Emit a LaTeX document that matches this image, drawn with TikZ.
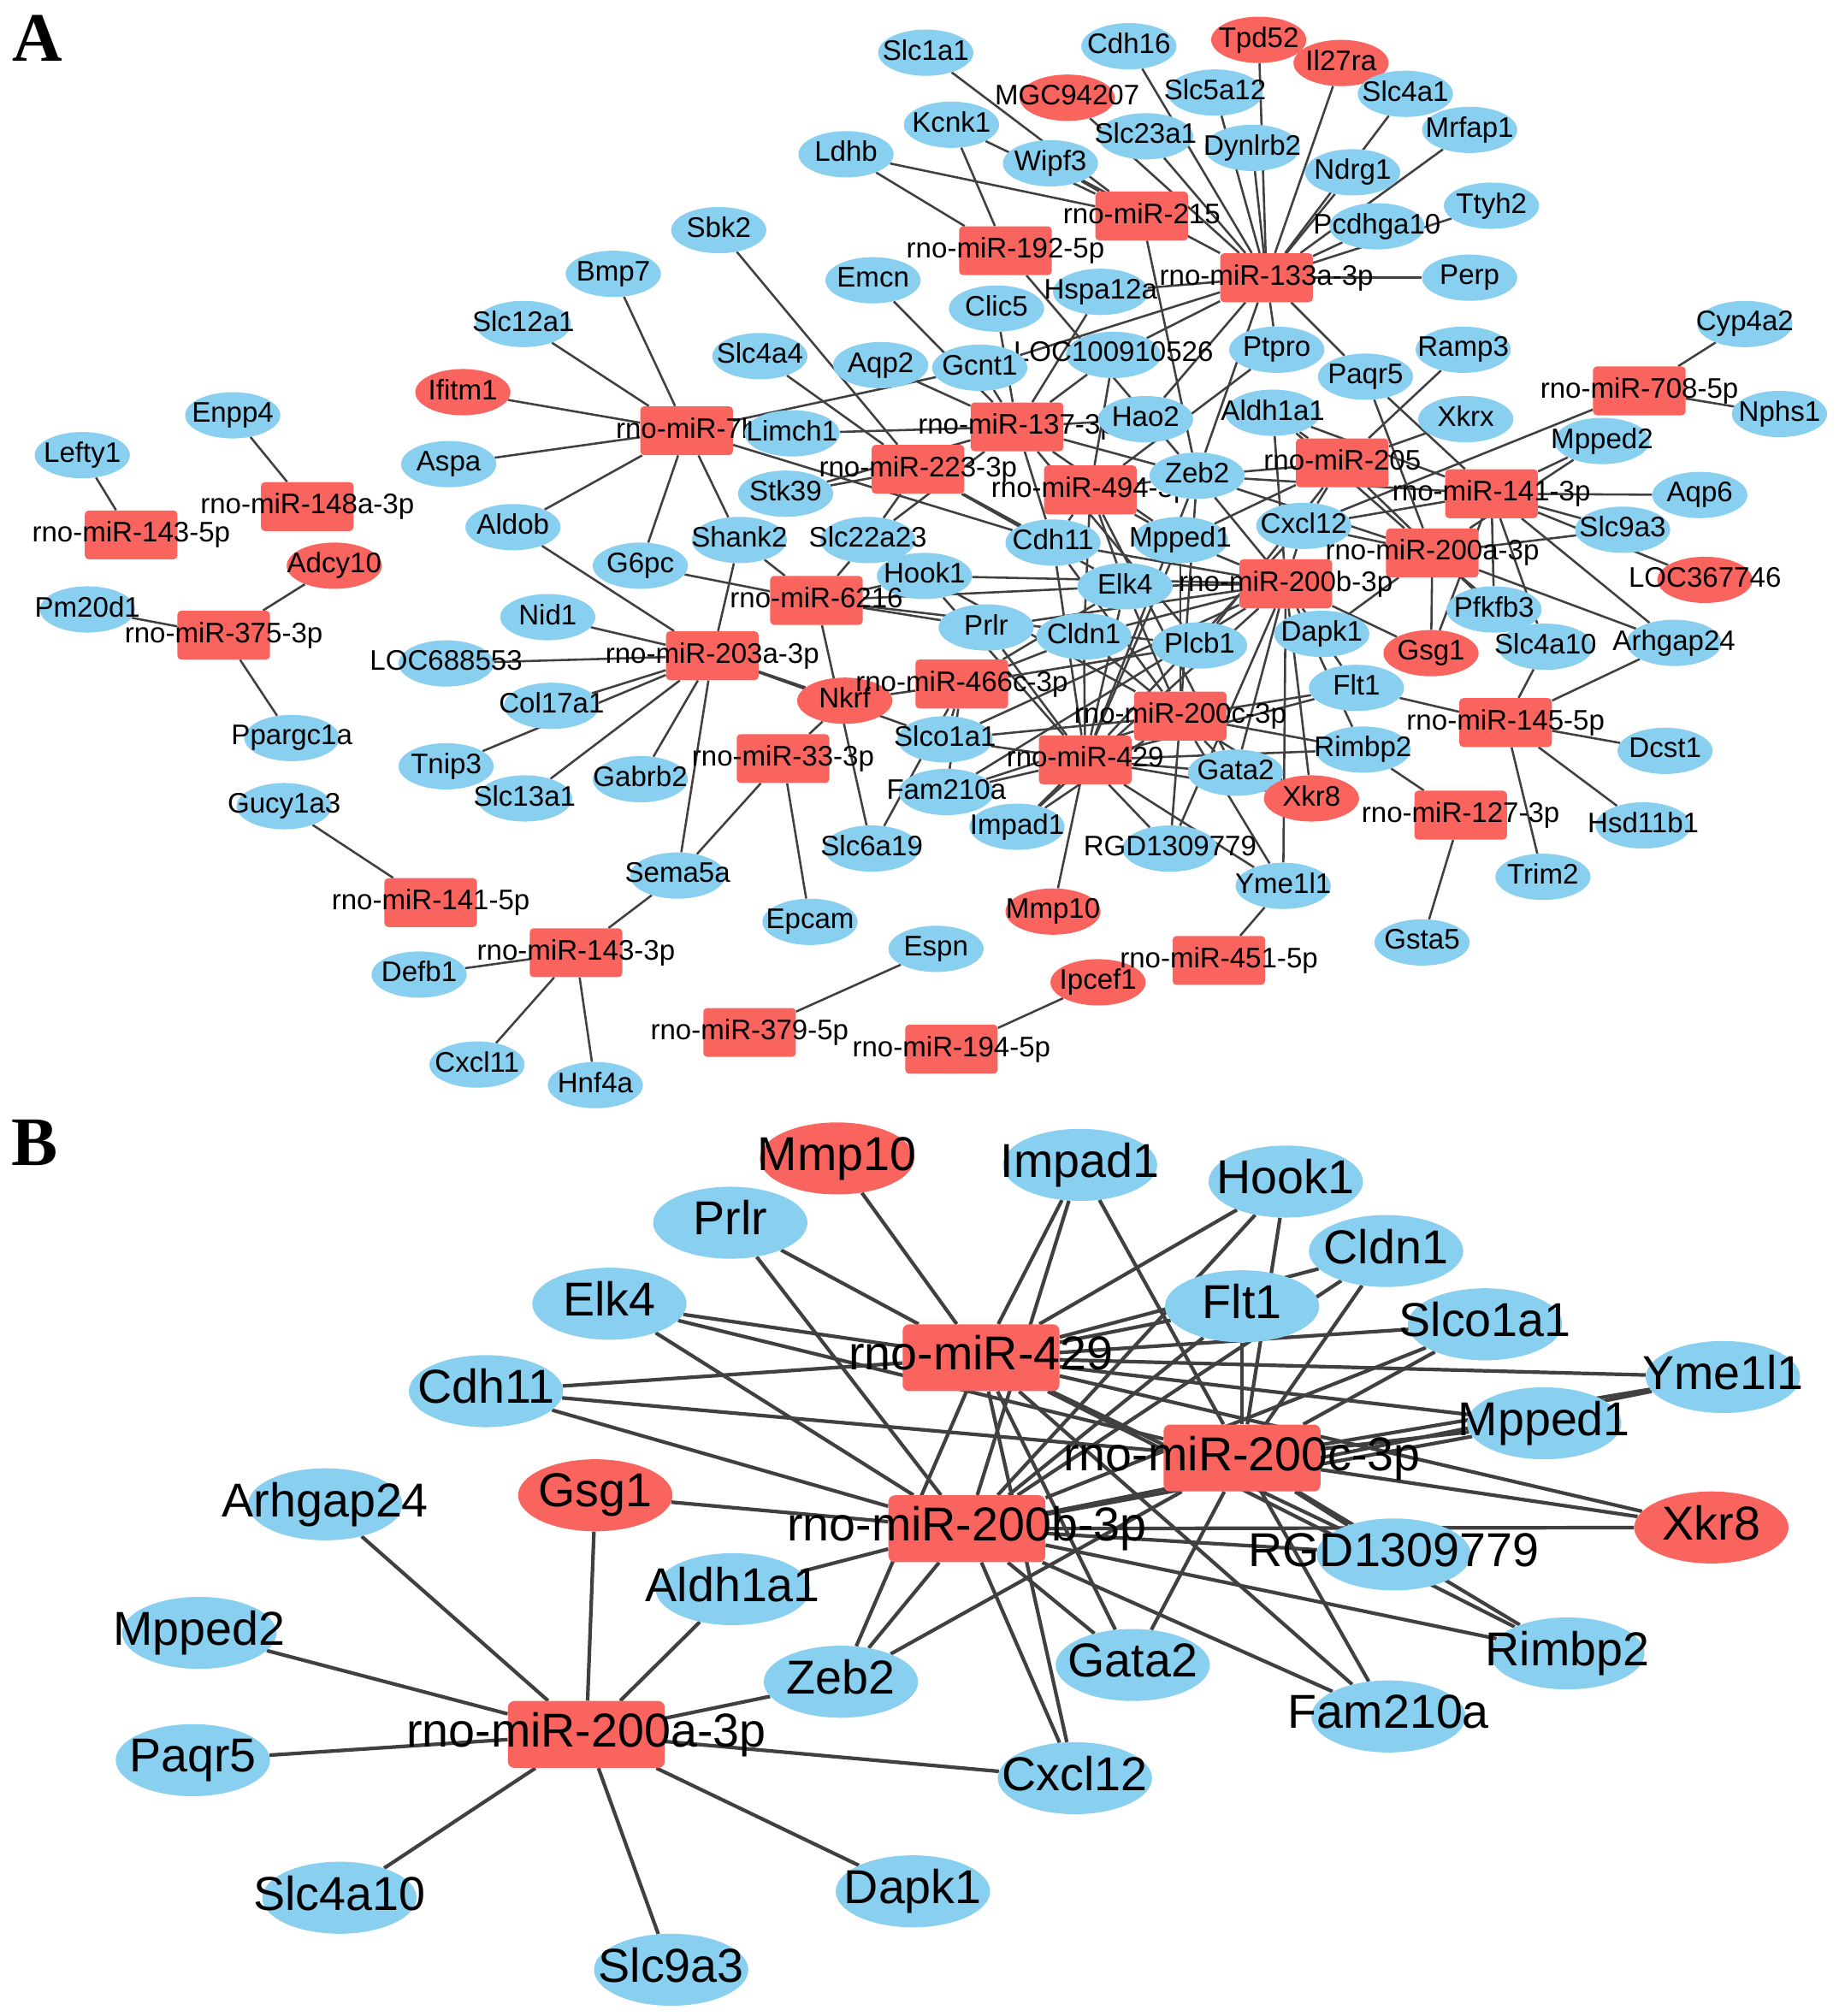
\documentclass[tikz,border=0pt]{standalone}
\usepackage{fontspec}
\setmainfont{Liberation Serif}
\setsansfont{Liberation Sans}
\usetikzlibrary{shapes.geometric,backgrounds}
\definecolor{gblue}{RGB}{137,207,240}
\definecolor{gred}{RGB}{250,100,95}
\definecolor{eg}{RGB}{64,64,64}
\newcommand{\myND}[4]{\node[#1] (#2) at (#3) {\makebox[0pt]{\vphantom{Ag}#4}};}
\begin{document}
\begin{tikzpicture}[x=1pt,y=-1pt,
  ga/.style={ellipse,fill=gblue,minimum width=74pt,minimum height=36pt,inner sep=0pt,font=\sffamily\fontsize{22}{22}\selectfont},
  gar/.style={ga,fill=gred},
  ma/.style={rectangle,rounded corners=3pt,fill=gred,minimum width=72pt,minimum height=38pt,inner sep=0pt,font=\sffamily\fontsize{22}{22}\selectfont},
  gb/.style={ellipse,fill=gblue,minimum width=120pt,minimum height=56pt,inner sep=0pt,font=\sffamily\fontsize{37}{37}\selectfont},
  gbr/.style={gb,fill=gred},
  mb/.style={rectangle,rounded corners=5pt,fill=gred,minimum width=122pt,minimum height=52pt,inner sep=0pt,font=\sffamily\fontsize{37}{37}\selectfont},
  ea/.style={draw=eg,line width=1.7pt},
  eb/.style={draw=eg,line width=2.8pt},
  panel/.style={font=\rmfamily\bfseries\fontsize{54}{54}\selectfont,inner sep=0pt}
]
\useasboundingbox (0,0) rectangle (1430,1568);
% ---------------- Panel A : genes ----------------
\myND{ga}{Lefty1}{64,354}{Lefty1}
\myND{ga}{Enpp4}{181,323}{Enpp4}
\myND{gar}{Adcy10}{260,440}{Adcy10}
\myND{ga}{Pm20d1}{68,474}{Pm20d1}
\myND{ga}{Ppargc1a}{227,574}{Ppargc1a}
\myND{ga}{Gucy1a3}{221,627}{Gucy1a3}
\myND{ga}{Defb1}{326,758}{Defb1}
\myND{ga}{Cxcl11}{371,828}{Cxcl11}
\myND{ga}{Hnf4a}{463,844}{Hnf4a}
\myND{gar}{Ifitm1}{360,305}{Ifitm1}
\myND{ga}{Aspa}{349,361}{Aspa}
\myND{ga}{Aldob}{399,410}{Aldob}
\myND{ga}{Slc12a1}{407,252}{Slc12a1}
\myND{ga}{Bmp7}{477,213}{Bmp7}
\myND{ga}{Sbk2}{559,179}{Sbk2}
\myND{ga}{Slc4a4}{591,277}{Slc4a4}
\myND{ga}{Aqp2}{685,284}{Aqp2}
\myND{ga}{Emcn}{679,218}{Emcn}
\myND{ga}{Ldhb}{658,120}{Ldhb}
\myND{ga}{Kcnk1}{740,97}{Kcnk1}
\myND{ga}{Slc1a1}{720,41}{Slc1a1}
\myND{ga}{Wipf3}{817,127}{Wipf3}
\myND{gar}{MGC94207}{830,76}{MGC94207}
\myND{ga}{Cdh16}{878,36}{Cdh16}
\myND{gar}{Tpd52}{979,31}{Tpd52}
\myND{gar}{Il27ra}{1043,49}{Il27ra}
\myND{ga}{Slc5a12}{945,72}{Slc5a12}
\myND{ga}{Slc23a1}{891,106}{Slc23a1}
\myND{ga}{Dynlrb2}{974,115}{Dynlrb2}
\myND{ga}{Slc4a1}{1093,73}{Slc4a1}
\myND{ga}{Mrfap1}{1143,101}{Mrfap1}
\myND{ga}{Ndrg1}{1052,134}{Ndrg1}
\myND{ga}{Ttyh2}{1160,160}{Ttyh2}
\myND{ga}{Pcdhga10}{1071,176}{Pcdhga10}
\myND{ga}{Perp}{1143,216}{Perp}
\myND{ga}{Hspa12a}{856,227}{Hspa12a}
\myND{ga}{Clic5}{775,240}{Clic5}
\myND{ga}{LOC100910526}{866,276}{LOC100910526}
\myND{ga}{Gcnt1}{762,286}{Gcnt1}
\myND{ga}{Ptpro}{993,272}{Ptpro}
\myND{ga}{Ramp3}{1138,272}{Ramp3}
\myND{ga}{Paqr5}{1062,293}{Paqr5}
\myND{ga}{Cyp4a2}{1357,252}{Cyp4a2}
\myND{ga}{Nphs1}{1384,322}{Nphs1}
\myND{ga}{Xkrx}{1140,326}{Xkrx}
\myND{ga}{Mpped2}{1246,343}{Mpped2}
\myND{ga}{Aqp6}{1322,385}{Aqp6}
\myND{ga}{Slc9a3}{1262,412}{Slc9a3}
\myND{gar}{LOC367746}{1326,451}{LOC367746}
\myND{ga}{Pfkfb3}{1162,474}{Pfkfb3}
\myND{ga}{Slc4a10}{1202,503}{Slc4a10}
\myND{ga}{Arhgap24}{1302,500}{Arhgap24}
\myND{gar}{Gsg1}{1113,508}{Gsg1}
\myND{ga}{Dcst1}{1295,584}{Dcst1}
\myND{ga}{Hsd11b1}{1278,642}{Hsd11b1}
\myND{ga}{Trim2}{1200,682}{Trim2}
\myND{ga}{Gsta5}{1106,733}{Gsta5}
\myND{ga}{Aldh1a1}{990,321}{Aldh1a1}
\myND{ga}{Stk39}{611,384}{Stk39}
\myND{ga}{Cxcl12}{1014,409}{Cxcl12}
\myND{ga}{Mpped1}{918,420}{Mpped1}
\myND{ga}{Cdh11}{819,422}{Cdh11}
\myND{ga}{Shank2}{575,420}{Shank2}
\myND{ga}{Slc22a23}{675,420}{Slc22a23}
\myND{ga}{G6pc}{498,440}{G6pc}
\myND{ga}{Hook1}{719,448}{Hook1}
\myND{ga}{Elk4}{875,456}{Elk4}
\myND{ga}{Dapk1}{1028,493}{Dapk1}
\myND{ga}{Prlr}{767,488}{Prlr}
\myND{ga}{Cldn1}{843,495}{Cldn1}
\myND{ga}{Plcb1}{933,502}{Plcb1}
\myND{ga}{Nid1}{426,480}{Nid1}
\myND{ga}{LOC688553}{347,516}{LOC688553}
\myND{ga}{Col17a1}{429,549}{Col17a1}
\myND{ga}{Tnip3}{347,596}{Tnip3}
\myND{ga}{Slc13a1}{408,621}{Slc13a1}
\myND{ga}{Gabrb2}{498,606}{Gabrb2}
\myND{gar}{Nkrf}{657,545}{Nkrf}
\myND{ga}{Slco1a1}{735,575}{Slco1a1}
\myND{ga}{Flt1}{1055,535}{Flt1}
\myND{ga}{Rimbp2}{1060,583}{Rimbp2}
\myND{ga}{Gata2}{961,601}{Gata2}
\myND{ga}{Fam210a}{736,616}{Fam210a}
\myND{ga}{Impad1}{791,643}{Impad1}
\myND{gar}{Xkr8}{1020,621}{Xkr8}
\myND{ga}{RGD}{910,660}{RGD1309779}
\myND{ga}{Slc6a19}{678,660}{Slc6a19}
\myND{ga}{Sema5a}{527,681}{Sema5a}
\myND{ga}{Epcam}{630,717}{Epcam}
\myND{gar}{Mmp10}{819,709}{Mmp10}
\myND{ga}{Yme1l1}{998,689}{Yme1l1}
\myND{ga}{Espn}{728,738}{Espn}
\myND{gar}{Ipcef1}{854,764}{Ipcef1}
% ---------------- Panel A : miRNAs ----------------
\myND{ma}{m143f}{102,416}{rno-miR-143-5p}
\myND{ma}{m148}{239,394}{rno-miR-148a-3p}
\myND{ma}{m375}{174,494}{rno-miR-375-3p}
\myND{ma}{m141f}{335,702}{rno-miR-141-5p}
\myND{ma}{m143t}{448,741}{rno-miR-143-3p}
\myND{ma}{m379}{583,803}{rno-miR-379-5p}
\myND{ma}{m194}{740,816}{rno-miR-194-5p}
\myND{ma}{m451}{948,747}{rno-miR-451-5p}
\myND{ma}{m708}{1275,304}{rno-miR-708-5p}
\myND{ma}{m127}{1136,634}{rno-miR-127-3p}
\myND{ma}{m145}{1171,562}{rno-miR-145-5p}
\myND{ma}{m7}{534,335}{rno-miR-7b}
\myND{ma}{m223}{714,365}{rno-miR-223-3p}
\myND{ma}{m137}{791,332}{rno-miR-137-3p}
\myND{ma}{m192}{782,195}{rno-miR-192-5p}
\myND{ma}{m215}{888,168}{rno-miR-215}
\myND{ma}{m133}{985,216}{rno-miR-133a-3p}
\myND{ma}{m494}{848,381}{rno-miR-494-3p}
\myND{ma}{m205}{1044,360}{rno-miR-205}
\myND{ma}{m141t}{1160,384}{rno-miR-141-3p}
\myND{ma}{m200a}{1114,430}{rno-miR-200a-3p}
\myND{ma}{m200b}{1000,454}{rno-miR-200b-3p}
\myND{ma}{m6216}{635,467}{rno-miR-6216}
\myND{ma}{m203}{554,510}{rno-miR-203a-3p}
\myND{ma}{m466}{748,532}{rno-miR-466c-3p}
\myND{ma}{m200c}{918,557}{rno-miR-200c-3p}
\myND{ma}{m429}{844,591}{rno-miR-429}
\myND{ma}{m33}{609,590}{rno-miR-33-3p}
% genes drawn over miRNA labels
\myND{ga}{Limch1}{616,337}{Limch1}
\myND{ga}{Hao2}{891,326}{Hao2}
\myND{ga}{Zeb2}{931,370}{Zeb2}
% ---------------- Panel B ----------------
\myND{gbr}{BMmp10}{651,901}{Mmp10}
\myND{gb}{BImpad1}{840,906}{Impad1}
\myND{gb}{BHook1}{1000,919}{Hook1}
\myND{gb}{BPrlr}{568,951}{Prlr}
\myND{gb}{BCldn1}{1078,973}{Cldn1}
\myND{gb}{BElk4}{474,1014}{Elk4}
\myND{gb}{BFlt1}{966,1016}{Flt1}
\myND{gb}{BSlco1a1}{1155,1030}{Slco1a1}
\myND{gb}{BYme1l1}{1340,1071}{Yme1l1}
\myND{gb}{BCdh11}{378,1082}{Cdh11}
\myND{gb}{BMpped1}{1201,1107}{Mpped1}
\myND{gbr}{BGsg1}{463,1163}{Gsg1}
\myND{gb}{BArhgap24}{253,1170}{Arhgap24}
\myND{gbr}{BXkr8}{1331,1188}{Xkr8}
\myND{gb}{BRGD}{1084,1209}{RGD1309779}
\myND{gb}{BAldh1a1}{570,1236}{Aldh1a1}
\myND{gb}{BMpped2}{155,1270}{Mpped2}
\myND{gb}{BZeb2}{654,1308}{Zeb2}
\myND{gb}{BGata2}{881,1295}{Gata2}
\myND{gb}{BRimbp2}{1219,1286}{Rimbp2}
\myND{gb}{BFam210a}{1080,1335}{Fam210a}
\myND{gb}{BPaqr5}{150,1369}{Paqr5}
\myND{gb}{BCxcl12}{836,1383}{Cxcl12}
\myND{gb}{BSlc4a10}{264,1476}{Slc4a10}
\myND{gb}{BDapk1}{710,1471}{Dapk1}
\myND{gb}{BSlc9a3}{522,1532}{Slc9a3}
\myND{mb}{B429}{763,1056}{rno-miR-429}
\myND{mb}{B200c}{966,1134}{rno-miR-200c-3p}
\myND{mb}{B200b}{752,1189}{rno-miR-200b-3p}
\myND{mb}{B200a}{456,1349}{rno-miR-200a-3p}
% panel letters
\node[panel] (LA) at (29,30) {A};
\node[panel] (LB) at (27,889) {B};
% ---------------- edges ----------------
\begin{pgfonlayer}{background}
\fill[white] (0,0) rectangle (1430,1568);
\foreach \m/\g in {m143f/Lefty1, m148/Enpp4, m375/Adcy10, m375/Pm20d1, m375/Ppargc1a, m141f/Gucy1a3,
  m143t/Defb1, m143t/Cxcl11, m143t/Hnf4a, m143t/Sema5a, m379/Espn, m194/Ipcef1, m451/Yme1l1,
  m708/Cyp4a2, m708/Nphs1, m708/Cxcl12, m127/Rimbp2, m127/Gsta5,
  m145/Slc4a10, m145/Arhgap24, m145/Dcst1, m145/Hsd11b1, m145/Trim2, m145/Flt1,
  m7/Slc12a1, m7/Bmp7, m7/Ifitm1, m7/Aspa, m7/Aldob, m7/G6pc, m7/Shank2, m7/Gcnt1, m7/Cdh11,
  m223/Sbk2, m223/Slc4a4, m223/Stk39, m223/Slc22a23, m223/Cdh11, m223/Elk4,
  m137/Emcn, m137/Aqp2, m137/Gcnt1, m137/Clic5, m137/Hspa12a, m137/Limch1, m137/LOC100910526,
  m137/Slc22a23, m137/Stk39, m137/Cdh11, m137/Zeb2, m137/Mpped1, m137/Hao2, m137/Plcb1,
  m192/Ldhb, m192/Kcnk1, m192/Zeb2,
  m215/Slc1a1, m215/Kcnk1, m215/Wipf3, m215/Ldhb, m215/Zeb2,
  m133/MGC94207, m133/Cdh16, m133/Slc5a12, m133/Tpd52, m133/Il27ra, m133/Slc23a1, m133/Dynlrb2,
  m133/Slc4a1, m133/Mrfap1, m133/Ndrg1, m133/Pcdhga10, m133/Ttyh2, m133/Perp, m133/Hspa12a,
  m133/Wipf3, m133/LOC100910526, m133/Ptpro, m133/Paqr5, m133/Hao2, m133/Zeb2, m133/Gcnt1,
  m494/Cdh11, m494/Zeb2, m494/Elk4, m494/Mpped1, m494/Cldn1, m494/Gata2, m494/Ptpro, m494/LOC100910526,
  m205/Aldh1a1, m205/Ramp3, m205/Xkrx, m205/Zeb2, m205/Cxcl12, m205/Pfkfb3, m205/Mpped1, m205/Plcb1,
  m141t/Mpped2, m141t/Aqp6, m141t/Slc9a3, m141t/Cxcl12, m141t/Paqr5, m141t/Zeb2, m141t/Pfkfb3,
  m141t/Gsg1, m141t/Arhgap24, m141t/Slc4a10, m141t/LOC367746, m141t/Aldh1a1,
  m6216/G6pc, m6216/Shank2, m6216/Slc22a23, m6216/Hook1, m6216/Prlr, m6216/Slc6a19, m6216/Elk4, m6216/Plcb1,
  m203/Aldob, m203/Nid1, m203/LOC688553, m203/Col17a1, m203/Tnip3, m203/Slc13a1, m203/Gabrb2,
  m203/Sema5a, m203/Shank2, m203/Nkrf, m203/Slco1a1,
  m466/Nkrf, m466/Slco1a1, m466/Plcb1, m466/Elk4, m466/Cldn1, m466/Slc6a19, m466/Fam210a,
  m33/Nkrf, m33/Sema5a, m33/Epcam}
  {\draw[ea] (\m) -- (\g);}
\foreach \m/\g in {200a/Arhgap24, 200a/Gsg1, 200a/Aldh1a1, 200a/Mpped2, 200a/Paqr5, 200a/Zeb2,
  200a/Cxcl12, 200a/Slc4a10, 200a/Slc9a3, 200a/Dapk1,
  200b/Gsg1, 200b/Cdh11, 200b/Elk4, 200b/Prlr, 200b/Aldh1a1, 200b/Zeb2, 200b/Cxcl12, 200b/Gata2,
  200b/Fam210a, 200b/Rimbp2, 200b/RGD, 200b/Xkr8, 200b/Mpped1, 200b/Yme1l1, 200b/Slco1a1,
  200b/Cldn1, 200b/Flt1, 200b/Hook1, 200b/Impad1,
  200c/Elk4, 200c/Cdh11, 200c/Zeb2, 200c/Gata2, 200c/Fam210a, 200c/Rimbp2, 200c/RGD, 200c/Xkr8,
  200c/Mpped1, 200c/Yme1l1, 200c/Slco1a1, 200c/Cldn1, 200c/Flt1, 200c/Hook1, 200c/Impad1,
  429/Mmp10, 429/Prlr, 429/Elk4, 429/Cdh11, 429/Zeb2, 429/Cxcl12, 429/Gata2, 429/Fam210a,
  429/Rimbp2, 429/RGD, 429/Xkr8, 429/Mpped1, 429/Yme1l1, 429/Slco1a1, 429/Cldn1, 429/Flt1,
  429/Hook1, 429/Impad1}
  {\draw[ea] (m\m) -- (\g); \draw[eb] (B\m) -- (B\g);}
\end{pgfonlayer}
\end{tikzpicture}
\end{document}
